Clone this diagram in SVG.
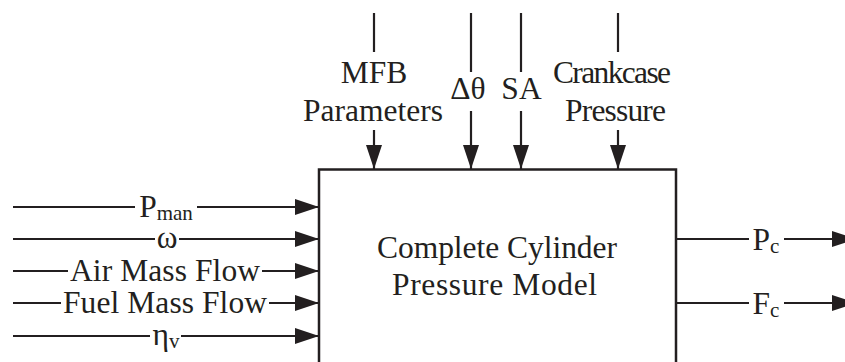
<svg xmlns="http://www.w3.org/2000/svg" width="845" height="362" viewBox="0 0 845 362">
<style>
  .t{font-family:"Liberation Serif","Tinos","Times New Roman","DejaVu Serif",serif;font-size:31.5px;fill:#231f20;text-anchor:middle}
  .s{font-size:21px}
  .ln{stroke:#231f20;stroke-width:2.2;fill:none}
  .box{stroke:#231f20;stroke-width:2.5;fill:#fff}
</style>
<defs>
  <marker id="ah" viewBox="0 0 24 16" refX="24" refY="8" markerWidth="24" markerHeight="16" markerUnits="userSpaceOnUse" orient="auto">
    <path d="M0,0 L24,8 L0,16 Z" fill="#231f20"/>
  </marker>
</defs>
<g id="block">
  <rect class="box" x="319" y="169.5" width="357" height="210"/>
  <text class="t" x="497" y="258" textLength="240">Complete Cylinder</text>
  <text class="t" x="494.5" y="294.5" textLength="205">Pressure Model</text>
</g>
<g id="connectors">
  <path class="ln" d="M13,207 H135"/>
  <path class="ln" d="M197,207 H319" marker-end="url(#ah)"/>
  <path class="ln" d="M13,239 H155"/>
  <path class="ln" d="M179,239 H319" marker-end="url(#ah)"/>
  <path class="ln" d="M13,271 H68"/>
  <path class="ln" d="M262,271 H319" marker-end="url(#ah)"/>
  <path class="ln" d="M13,303 H61"/>
  <path class="ln" d="M269,303 H319" marker-end="url(#ah)"/>
  <path class="ln" d="M13,336 H150"/>
  <path class="ln" d="M181,336 H319" marker-end="url(#ah)"/>
  <path class="ln" d="M374,13 V52"/>
  <path class="ln" d="M374,130 V169" marker-end="url(#ah)"/>
  <path class="ln" d="M471,13 V72"/>
  <path class="ln" d="M471,111 V169" marker-end="url(#ah)"/>
  <path class="ln" d="M521,13 V72"/>
  <path class="ln" d="M521,111 V169" marker-end="url(#ah)"/>
  <path class="ln" d="M618,13 V52"/>
  <path class="ln" d="M618,130 V169" marker-end="url(#ah)"/>
  <path class="ln" d="M676,239 H749"/>
  <path class="ln" d="M784,239 H856" marker-end="url(#ah)"/>
  <path class="ln" d="M676,303 H749"/>
  <path class="ln" d="M784,303 H856" marker-end="url(#ah)"/>
</g>
<g id="labels">
  <text class="t" x="166" y="217">P<tspan class="s" dy="3">man</tspan></text>
  <text class="t" x="167" y="248">ω</text>
  <text class="t" x="165" y="281" textLength="190">Air Mass Flow</text>
  <text class="t" x="165" y="313" textLength="204">Fuel Mass Flow</text>
  <text class="t" x="166" y="345">η<tspan class="s" dy="3">v</tspan></text>
  <text class="t" x="374" y="83">MFB</text>
  <text class="t" x="373" y="121" textLength="140">Parameters</text>
  <text class="t" x="468" y="99">Δθ</text>
  <text class="t" x="521.5" y="99">SA</text>
  <text class="t" x="612" y="83" textLength="118">Crankcase</text>
  <text class="t" x="615.5" y="121" textLength="101">Pressure</text>
  <text class="t" x="766" y="250">P<tspan class="s" dy="3">c</tspan></text>
  <text class="t" x="766" y="314">F<tspan class="s" dy="3">c</tspan></text>
</g>
</svg>
